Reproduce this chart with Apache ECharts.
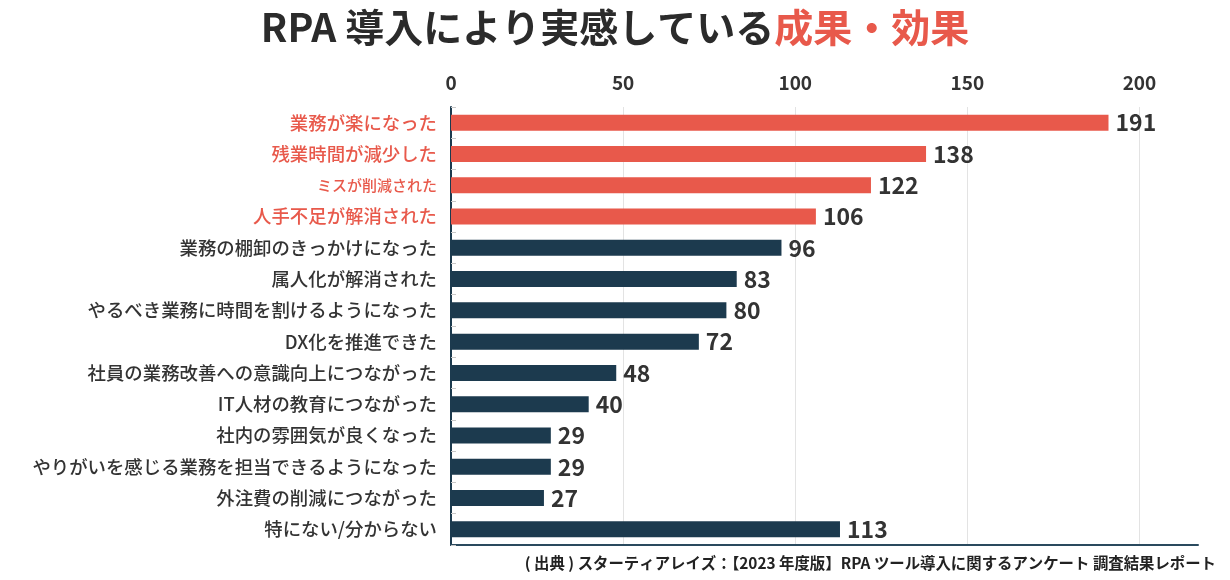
<!DOCTYPE html>
<html><head><meta charset="utf-8">
<script src="https://cdn.jsdelivr.net/npm/echarts@6/dist/echarts.min.js"></script>
<style>html,body{margin:0;padding:0;background:#fff}#c{width:1230px;height:580px}</style>
</head><body><div id="c"></div>
<script>
const categories = [
  "業務が楽になった","残業時間が減少した","ミスが削減された","人手不足が解消された",
  "業務の棚卸のきっかけになった","属人化が解消された","やるべき業務に時間を割けるようになった",
  "DX化を推進できた","社員の業務改善への意識向上につながった","IT人材の教育につながった",
  "社内の雰囲気が良くなった","やりがいを感じる業務を担当できるようになった",
  "外注費の削減につながった","特にない/分からない"
];
const values = [191,138,122,106,96,83,80,72,48,40,29,29,27,113];
const highlighted = [true,true,true,true,false,false,false,false,false,false,false,false,false,false];
const xTicks = [0,50,100,150,200];

const RED = '#e8594b', DARK = '#1c3a4e';
const NUMFONT = '"Noto Sans CJK JP"';
const chart = echarts.init(document.getElementById('c'));
chart.setOption({
  animation:false,
  title:{
    text:'{a|RPA 導入により実感している}{b|成果・効果}',
    left:'center', top:3,
    textStyle:{rich:{
      a:{fontFamily:'"Noto Sans CJK JP"',fontSize:39,fontWeight:'bold',color:'#2b2b2b'},
      b:{fontFamily:'"Noto Sans CJK JP"',fontSize:39,fontWeight:'bold',color:RED}
    }}
  },
  graphic:[{
    type:'text', right:14, top:555,
    style:{text:'( 出典 ) スターティアレイズ：【2023 年度版】RPA ツール導入に関するアンケート 調査結果レポート',
      font:'bold 15.4px "Noto Sans CJK JP"', fill:'#222'}
  }],
  grid:{left:451,right:32,top:107,bottom:35,containLabel:false},
  xAxis:[{
    type:'value', position:'top', min:0, max:217, interval:50,
    axisLine:{show:false}, axisTick:{show:false},
    axisLabel:{margin:15,color:'#333',fontFamily:NUMFONT,fontWeight:'bold',fontSize:19,
      formatter:v=> xTicks.includes(v)?String(v):''},
    splitLine:{show:true,showMinLine:false,showMaxLine:false,lineStyle:{color:'#e3e3e3',width:1}}
  },{
    type:'value', position:'bottom', min:0, max:217,
    axisLine:{show:true,lineStyle:{color:'#2a4a5e',width:2}},
    axisTick:{show:false}, axisLabel:{show:false}, splitLine:{show:false}
  }],
  yAxis:{
    type:'category', inverse:true, data:categories,
    axisLine:{show:true,lineStyle:{color:DARK,width:2}},
    axisTick:{show:true,inside:true,length:5,lineStyle:{color:'#c8c8c8'}},
    axisLabel:{margin:14,fontFamily:'"Noto Sans CJK JP"',fontWeight:500,
      formatter:(v,i)=> highlighted[i] ? (v==='ミスが削減された' ? '{rs|'+v+'}' : '{r|'+v+'}') : '{d|'+v+'}',
      rich:{
        r:{color:RED,fontSize:18.4,fontWeight:500,fontFamily:'"Noto Sans CJK JP"'},
        rs:{color:RED,fontSize:15,fontWeight:500,fontFamily:'"Noto Sans CJK JP"'},
        d:{color:'#333',fontSize:18.4,fontWeight:500,fontFamily:'"Noto Sans CJK JP"'}
      }}
  },
  series:[{
    type:'bar', barWidth:16, xAxisIndex:0,
    data: values.map((v,i)=>({value:v,itemStyle:{color:highlighted[i]?RED:DARK}})),
    label:{show:true,position:'right',distance:7,color:'#333',
      fontFamily:NUMFONT,fontWeight:'bold',fontSize:23}
  }]
});
</script></body></html>
